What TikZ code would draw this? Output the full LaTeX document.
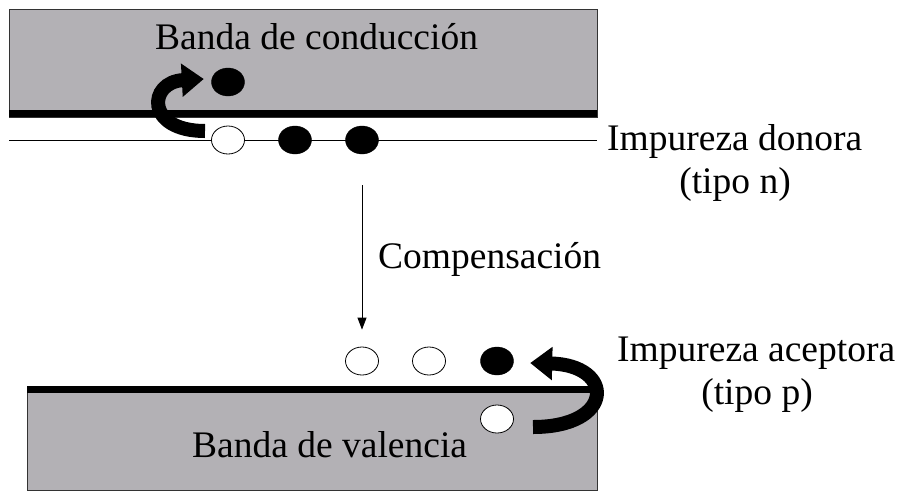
\documentclass[tikz,border=0pt]{standalone}
\usepackage{fontspec}
\setmainfont{Liberation Serif}
\usetikzlibrary{shapes.geometric,arrows.meta}
\definecolor{bandgray}{RGB}{179,177,181}
\begin{document}
\begin{tikzpicture}[x=1pt,y=-1pt,
  band/.style={fill=bandgray,draw=black!80,line width=0.8pt},
  edgeline/.style={line width=7pt},
  lvl/.style={line width=0.8pt},
  elec/.style={ellipse,fill=black,draw=black,minimum width=33pt,minimum height=28pt,inner sep=0pt},
  hole/.style={ellipse,fill=white,draw=black,line width=0.8pt,minimum width=33pt,minimum height=28pt,inner sep=0pt},
  lbl/.style={font=\fontsize{37.5}{43}\selectfont,inner sep=0pt},
  jump/.style={line width=14pt,-{Triangle[length=22pt,width=32pt]}},
  comp/.style={line width=0.8pt,-{Triangle[length=12pt,width=9pt]}}]
\useasboundingbox[fill=white] (0,0) rectangle (899,491);
% bands
\draw[band] (9,9) rectangle (597,117);
\draw[edgeline] (9,113.5) -- (597,113.5);
\draw[band] (27,386) rectangle (597,490);
\draw[edgeline] (27,389.5) -- (597,389.5);
% donor level
\draw[lvl] (9,140) -- (597,140);
% labels
\node[lbl,anchor=base west] (tcb) at (155,49) {Banda de conducción};
\node[lbl,anchor=base west] (tdon) at (607,150) {Impureza donora};
\node[lbl,anchor=base] (tn) at (735,193) {(tipo n)};
\node[lbl,anchor=base west] (tcomp) at (378,268) {Compensación};
\node[lbl,anchor=base west] (tacc) at (617,361) {Impureza aceptora};
\node[lbl,anchor=base] (tp) at (757,404) {(tipo p)};
\node[lbl,anchor=base west] (tvb) at (192,457) {Banda de valencia};
% carriers
\node[elec] (ce) at (228,82) {};
\node[hole] (d1) at (228,140) {};
\node[elec] (d2) at (295,140) {};
\node[elec] (d3) at (362,140) {};
\node[hole] (a1) at (362,361) {};
\node[hole] (a2) at (429,361) {};
\node[elec] (a3) at (497,361) {};
\node[hole] (vh) at (497,419) {};
% compensation arrow
\coordinate (ctop) at (362,185);
\draw[comp] (ctop) -- ([yshift=17pt]a1.north);
% jump arrows
\coordinate (t1) at (205,131);
\draw[jump] (t1) .. controls (145,131) and (148,82) .. ([xshift=-7.5pt,yshift=3pt]ce.west);
\coordinate (t2) at (533,427);
\draw[jump] (t2) .. controls (615,427) and (615,365) .. ([xshift=16.5pt,yshift=-2pt]a3.east);
\end{tikzpicture}
\end{document}
